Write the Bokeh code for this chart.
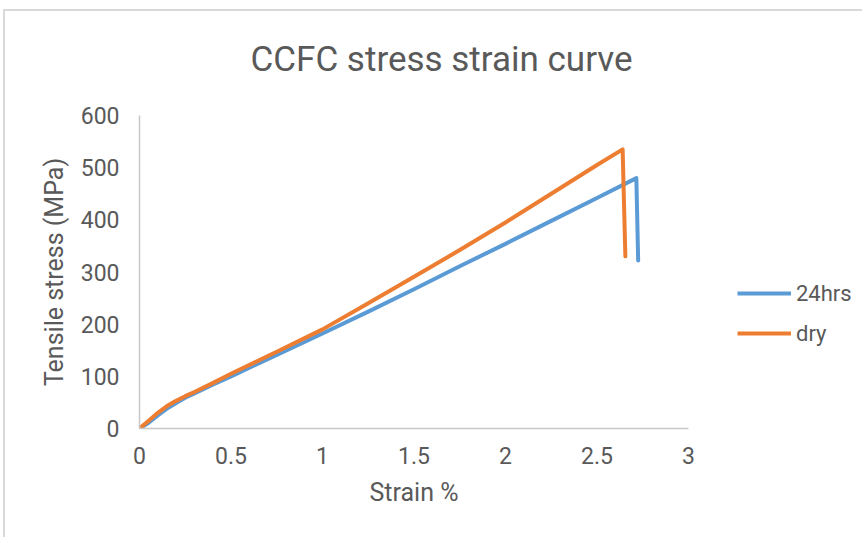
from bokeh.plotting import figure
from bokeh.layouts import row
from bokeh.models import FixedTicker, Legend, LegendItem, Range1d
from bokeh.embed import file_html
from bokeh.resources import INLINE

# Data
strain_24hrs = [0, 0.05, 0.1, 0.15, 0.2, 0.25, 0.3, 0.4, 0.5, 0.75, 1.0, 1.25, 1.5, 1.75, 2.0, 2.25, 2.5, 2.715, 2.725]
stress_24hrs = [0, 11, 25, 38, 49, 59, 67, 84, 100, 141, 182, 224, 267, 311, 354, 398, 442, 480, 322]
strain_dry = [0, 0.05, 0.1, 0.15, 0.2, 0.25, 0.3, 0.4, 0.5, 0.75, 1.0, 1.25, 1.5, 1.75, 2.0, 2.25, 2.5, 2.64, 2.655]
stress_dry = [0, 15, 30, 43, 53, 62, 70, 87, 105, 147, 190, 240, 291, 342, 395, 450, 505, 535, 330]
series_names = ["24hrs", "dry"]
series_colors = ["#5B9BD5", "#ED7D31"]
x_ticks = [0, 0.5, 1, 1.5, 2, 2.5, 3]
y_ticks = [0, 100, 200, 300, 400, 500, 600]
title_text = "CCFC stress strain curve"

TEXT = "#595959"
FONT = "Roboto"
GRAY = "#D9D9D9"
# thin chart-area border (top at 9px, left at 3px), painted as the page background behind transparent canvases
BORDER_BG_MAIN = (f"linear-gradient({GRAY}, {GRAY}) 3px 9px / 100% 2px no-repeat, "
                  f"linear-gradient({GRAY}, {GRAY}) 3px 9px / 2px 100% no-repeat, #FFFFFF")
BORDER_BG_SIDE = f"linear-gradient({GRAY}, {GRAY}) 0px 9px / 100% 2px no-repeat, #FFFFFF"

# main chart
p = figure(width=695, height=537, output_backend="svg", toolbar_location=None,
           x_range=Range1d(0, 3), y_range=Range1d(0, 600),
           min_border_left=139, min_border_right=7, min_border_top=115, min_border_bottom=109)
p.styles = {"background": BORDER_BG_MAIN}
p.background_fill_color = "white"
p.border_fill_alpha = 0
p.outline_line_color = None
p.grid.visible = False

p.title.text = title_text
p.title.text_font = FONT
p.title.text_font_style = "normal"
p.title.text_font_size = "35px"
p.title.text_color = TEXT
p.title.align = "left"
p.title.offset = 111
p.title.standoff = 72

for ax in (p.xaxis[0], p.yaxis[0]):
    ax.axis_line_color = "#C8C8C8"
    ax.axis_line_width = 1.5
    ax.major_tick_in = 0
    ax.major_tick_out = 0
    ax.minor_tick_line_color = None
    ax.major_label_text_font = FONT
    ax.major_label_text_font_size = "23px"
    ax.major_label_text_color = TEXT
    ax.axis_label_text_font = FONT
    ax.axis_label_text_font_size = "25px"
    ax.axis_label_text_font_style = "normal"
    ax.axis_label_text_color = TEXT

p.xaxis.ticker = FixedTicker(ticks=x_ticks)
p.xaxis.major_label_overrides = {t: ("%g" % t) for t in x_ticks}
p.xaxis.major_label_standoff = 18
p.xaxis.axis_label = "Strain %"
p.xaxis.axis_label_standoff = 11

p.yaxis.ticker = FixedTicker(ticks=y_ticks)
p.yaxis.major_label_standoff = 20
p.yaxis.axis_label = "Tensile stress (MPa)"
p.yaxis.axis_label_standoff = 9

p.line(strain_24hrs, stress_24hrs, line_color=series_colors[0], line_width=4, line_join="round", line_cap="round")
p.line(strain_dry, stress_dry, line_color=series_colors[1], line_width=4, line_join="round", line_cap="round")

# legend panel to the right of the plot area
pl = figure(width=167, height=537, output_backend="svg", toolbar_location=None,
            x_axis_type=None, y_axis_type=None, x_range=Range1d(-2, -1), y_range=Range1d(-2, -1),
            min_border=0)
pl.styles = {"background": BORDER_BG_SIDE}
pl.background_fill_alpha = 0
pl.border_fill_alpha = 0
pl.outline_line_color = None
pl.grid.visible = False
l1 = pl.line(strain_24hrs, stress_24hrs, line_color=series_colors[0], line_width=4)
l2 = pl.line(strain_dry, stress_dry, line_color=series_colors[1], line_width=4)

legend = Legend(items=[LegendItem(label=series_names[0], renderers=[l1]),
                       LegendItem(label=series_names[1], renderers=[l2])],
                location=(42, 82), orientation="vertical")
legend.border_line_color = None
legend.background_fill_alpha = 0
legend.padding = 0
legend.margin = 0
legend.spacing = 14
legend.glyph_width = 54
legend.glyph_height = 26
legend.label_height = 26
legend.label_standoff = 5
legend.label_text_font = FONT
legend.label_text_font_size = "22px"
legend.label_text_color = TEXT
pl.add_layout(legend, "center")

layout = row(p, pl, spacing=0)
open("out.html", "w").write(file_html(layout, INLINE))
